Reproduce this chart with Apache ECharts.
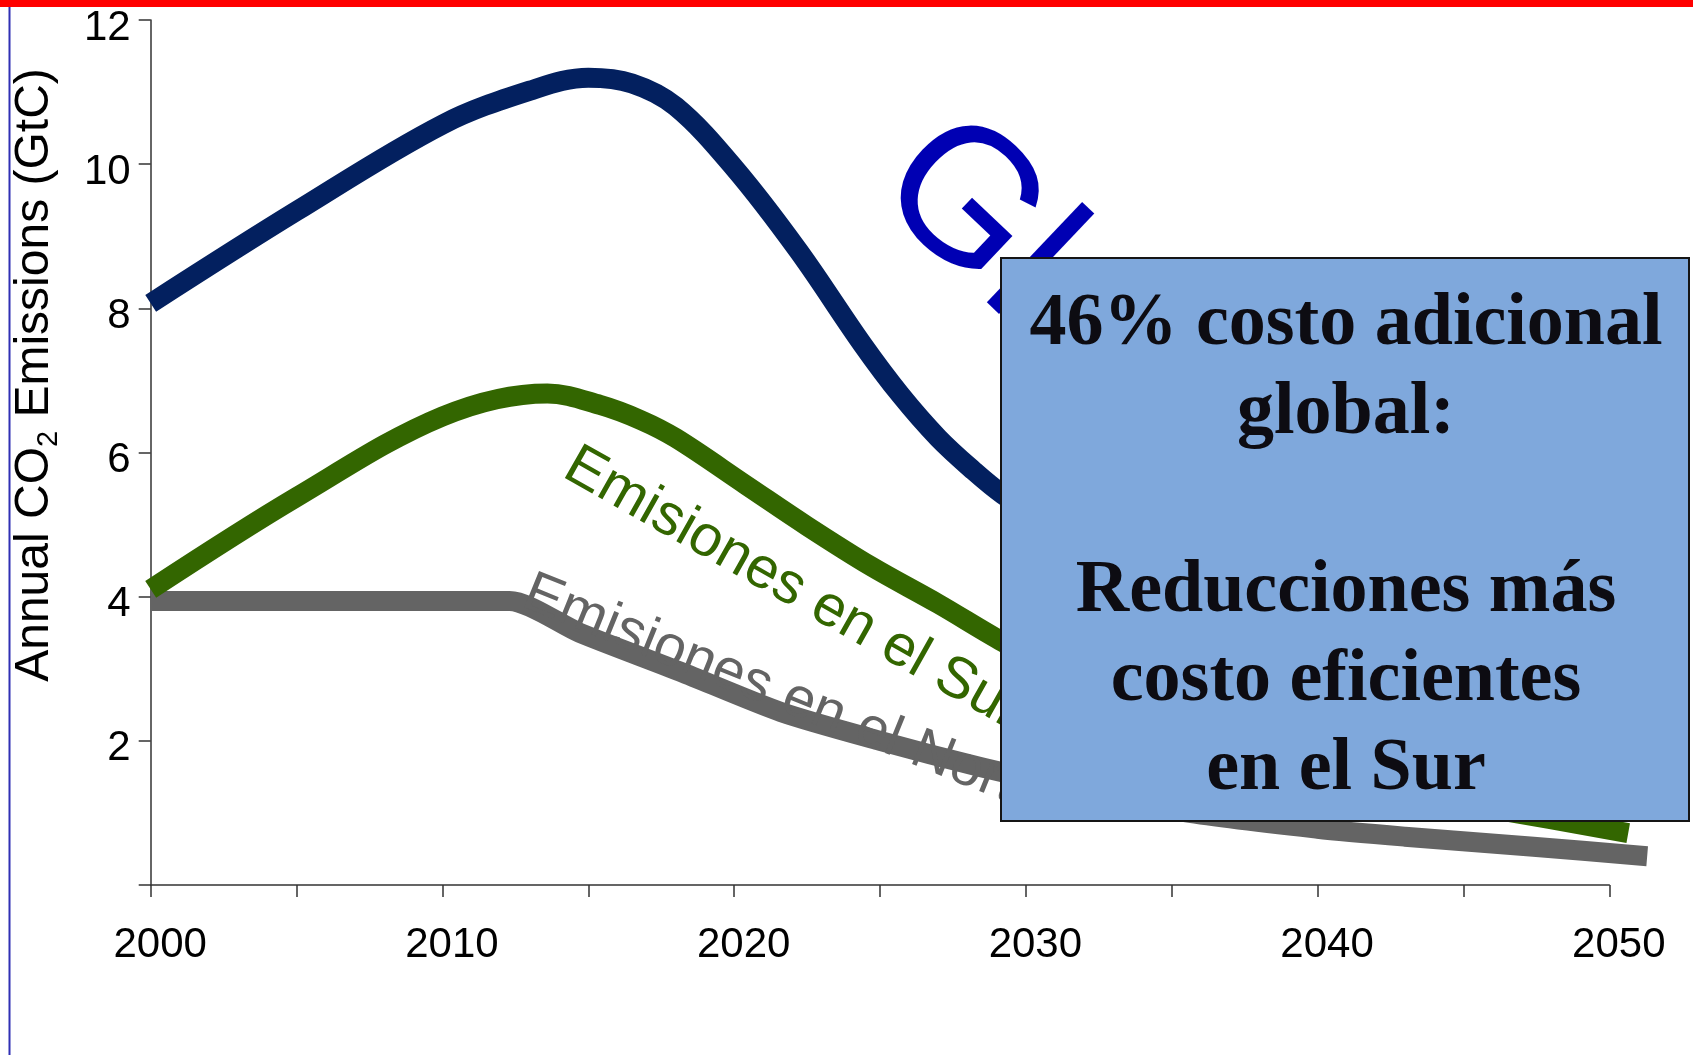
<!DOCTYPE html>
<html>
<head>
<meta charset="utf-8">
<script src="https://cdn.jsdelivr.net/npm/echarts@6/dist/echarts.min.js"></script>
<style>
html,body{margin:0;padding:0;background:#ffffff;}
#c{width:1693px;height:1055px;}
</style>
</head>
<body>
<div id="c"></div>
<script>
// ---- data ----
const xTickLabels = ['2000', '2010', '2020', '2030', '2040', '2050'];
const yTickLabels = ['2', '4', '6', '8', '10', '12'];

const globalYears  = [2000, 2005, 2010, 2013, 2015, 2016.5, 2018, 2020, 2022.2, 2024.4, 2025.7, 2027, 2028.2, 2029.2, 2031, 2035, 2040, 2045, 2050];
const globalValues = [8.07, 9.35, 10.55, 11.02, 11.2, 11.12, 10.8, 9.95, 8.8, 7.5, 6.8, 6.2, 5.75, 5.42, 4.95, 4.0, 2.9, 2.1, 1.6];

const southYears  = [2000, 2005, 2010, 2013.6, 2015.4, 2016.8, 2018, 2020.4, 2022.5, 2024.7, 2027, 2029, 2032, 2036, 2040, 2043, 2046.2, 2050.65];
const southValues = [4.1, 5.38, 6.5, 6.82, 6.66, 6.45, 6.2, 5.55, 4.98, 4.42, 3.9, 3.42, 2.75, 2.0, 1.5, 1.25, 1.04, 0.72];

const northYears  = [2000, 2010, 2012.3, 2014.7, 2018.15, 2021.6, 2025, 2028.4, 2031, 2035.3, 2040, 2043, 2047.4, 2051.3];
const northValues = [3.94, 3.94, 3.94, 3.5, 2.96, 2.4, 2.0, 1.64, 1.4, 1.02, 0.78, 0.67, 0.53, 0.40];

const labelGlobal = 'Global';
const labelSouth = 'Emisiones en el Sur';
const labelNorth = 'Emisiones en el Norte';
const boxLines = ['46% costo adicional', 'global:', '', 'Reducciones más', 'costo eficientes', 'en el Sur'];

function zip(xs, ys) { return xs.map((x, i) => [x, ys[i]]); }

const chart = echarts.init(document.getElementById('c'), null, {renderer: 'canvas'});
const deg = Math.PI / 180;
const axisColor = '#333';

const option = {
  animation: false,
  backgroundColor: '#ffffff',
  grid: [
    // visible axes
    {left: 150.7, right: 83.7, top: 20, bottom: 170, containLabel: false},
    // same scale (29.17 px / year), wider range, so line ends past 2050 are not cut
    {left: 92.36, right: 25.4, top: 20, bottom: 170, containLabel: false}
  ],
  xAxis: [
    {
      type: 'value', gridIndex: 0, min: 2000, max: 2050, interval: 5,
      axisLine: {show: true, lineStyle: {color: axisColor, width: 1.5}},
      axisTick: {show: true, inside: false, length: 12, lineStyle: {color: axisColor, width: 1.5}},
      splitLine: {show: false},
      axisLabel: {
        show: true, margin: 39, fontSize: 42, fontFamily: 'Liberation Sans', color: '#000',
        padding: [0, 0, 0, 19], showMinLabel: true, showMaxLabel: true,
        formatter: function (v) { const s = String(Math.round(v)); return xTickLabels.indexOf(s) >= 0 ? s : ''; }
      }
    },
    {type: 'value', gridIndex: 1, min: 1998, max: 2052, show: false, splitLine: {show: false}}
  ],
  yAxis: [
    {
      type: 'value', gridIndex: 0, min: 0, max: 12, interval: 2,
      axisLine: {show: true, lineStyle: {color: axisColor, width: 1.5}},
      axisTick: {show: true, inside: false, length: 12, lineStyle: {color: axisColor, width: 1.5}},
      splitLine: {show: false},
      axisLabel: {
        show: true, margin: 20, color: '#000',
        formatter: function (v) { const s = String(Math.round(v)); return yTickLabels.indexOf(s) >= 0 ? '{v|' + s + '}' : ''; },
        rich: {v: {fontSize: 42, fontFamily: 'Liberation Sans', color: '#000', padding: [16, 0, 0, 0]}}
      }
    },
    {type: 'value', gridIndex: 1, min: 0, max: 12, show: false, splitLine: {show: false}}
  ],
  series: [
    {name: 'Norte', type: 'line', xAxisIndex: 1, yAxisIndex: 1, data: zip(northYears, northValues), smooth: 0.25, symbol: 'none',
     lineStyle: {color: '#646464', width: 20, cap: 'butt', join: 'round'}, z: 2},
    {name: 'Sur', type: 'line', xAxisIndex: 1, yAxisIndex: 1, data: zip(southYears, southValues), smooth: 0.35, symbol: 'none',
     lineStyle: {color: '#336600', width: 20, cap: 'butt', join: 'round'}, z: 3},
    {name: 'Global', type: 'line', xAxisIndex: 1, yAxisIndex: 1, data: zip(globalYears, globalValues), smooth: 0.35, symbol: 'none',
     lineStyle: {color: '#03205F', width: 20, cap: 'butt', join: 'round'}, z: 4}
  ],
  graphic: [
    {type: 'rect', z: 200, shape: {x: 0, y: 0, width: 1693, height: 7}, style: {fill: '#FF0000'}},
    {type: 'rect', z: 200, shape: {x: 8.5, y: 7, width: 2, height: 1048}, style: {fill: '#2F2FB4'}},
    {type: 'text', z: 50, x: 35, y: 375, rotation: 90 * deg,
     style: {
       text: '{a|Annual CO}{s|2}{a| Emissions (GtC)}',
       x: 0, y: 0, align: 'center', verticalAlign: 'middle', textAlign: 'center', textVerticalAlign: 'middle',
       rich: {
         a: {fontSize: 48, fontFamily: 'Liberation Sans', fill: '#000', lineHeight: 56},
         s: {fontSize: 29, fontFamily: 'Liberation Sans', fill: '#000', lineHeight: 29, verticalAlign: 'bottom'}
       }
     }},
    {type: 'text', z: 50, x: 906, y: 153, rotation: -43.5 * deg,
     style: {text: labelGlobal, x: 0, y: 0, fontSize: 191, fontFamily: 'Liberation Sans', fill: '#0000B3',
             align: 'left', verticalAlign: 'middle', textAlign: 'left', textVerticalAlign: 'middle'}},
    {type: 'text', z: 50, x: 568.6, y: 461.8, rotation: -29.5 * deg,
     style: {text: labelSouth, x: 0, y: 0, fontSize: 58, fontFamily: 'Liberation Sans', fill: '#336600',
             align: 'left', verticalAlign: 'middle', textAlign: 'left', textVerticalAlign: 'middle'}},
    {type: 'text', z: 50, x: 526, y: 591, rotation: -22 * deg,
     style: {text: labelNorth, x: 0, y: 0, fontSize: 57, fontFamily: 'Liberation Sans', fill: '#646464',
             align: 'left', verticalAlign: 'middle', textAlign: 'left', textVerticalAlign: 'middle'}},
    {type: 'rect', z: 100, shape: {x: 1001, y: 258, width: 688, height: 563},
     style: {fill: '#7FA8DC', stroke: '#151515', lineWidth: 2}},
    {type: 'text', z: 101, x: 1346, y: 547,
     style: {text: boxLines.join('\n'), x: 0, y: 0, fontSize: 74, fontWeight: 'bold', fontFamily: 'Liberation Serif',
             lineHeight: 89, fill: '#0D0C12', align: 'center', verticalAlign: 'middle', textAlign: 'center', textVerticalAlign: 'middle'}}
  ]
};
chart.setOption(option);
</script>
</body>
</html>
